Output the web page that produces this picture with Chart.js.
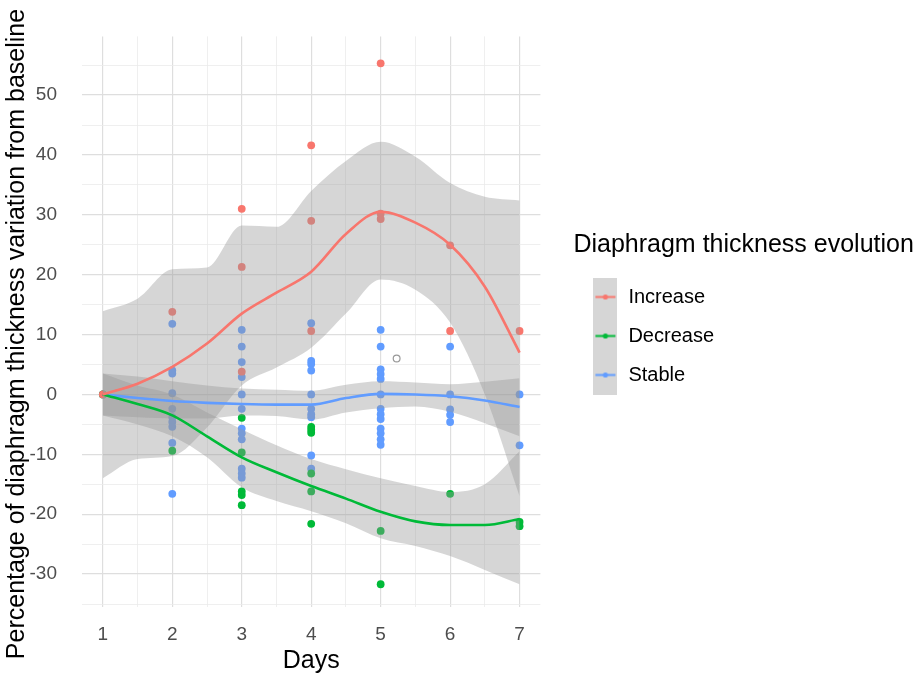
<!DOCTYPE html>
<html>
<head>
<meta charset="utf-8">
<script src="https://cdn.jsdelivr.net/npm/chart.js@4.4.1/dist/chart.umd.min.js"></script>
<style>
html, body { margin: 0; padding: 0; background: #fff; }
#wrap { width: 920px; height: 677px; position: relative; }
</style>
</head>
<body>
<div id="wrap"><canvas id="plot"></canvas></div>
<script>
// groups and colours (ggplot default hues)
const groups = ["Increase", "Decrease", "Stable"];
const colors = ["#F8766D", "#00BA38", "#619CFF"];
const ribbonFill = "rgba(153,153,153,0.4)";

// axis ticks
const dayTicks = [1, 2, 3, 4, 5, 6, 7];
const dayMinor = [1.5, 2.5, 3.5, 4.5, 5.5, 6.5];
const yTicks = [-30, -20, -10, 0, 10, 20, 30, 40, 50];
const yMinor = [-35, -25, -15, -5, 5, 15, 25, 35, 45, 55];

// observations [day, % change]
const incPts = [[1,0],[2,13.8],[3,31],[3,21.3],[3,3.8],[4,41.6],[4,29],[4,10.6],[5,55.3],[5,30.2],[5,29.3],[6,24.9],[6,10.6],[7,10.6]];
const decPts = [[1,0],[2,-9.4],[3,-3.9],[3,-9.7],[3,-16.2],[3,-16.8],[3,-18.5],[4,-5.4],[4,-5.9],[4,-6.4],[4,-13.2],[4,-16.2],[4,-21.6],[5,-22.8],[5,-31.7],[6,-16.6],[7,-21.3],[7,-22]];
const staPts = [[1,0],[2,11.8],[2,4],[2,3.5],[2,0.2],[2,-2.4],[2,-3.8],[2,-4.6],[2,-5.4],[2,-8.1],[2,-16.6],
  [3,10.8],[3,8],[3,5.4],[3,2.9],[3,0],[3,-2.4],[3,-5.7],[3,-6.5],[3,-7.5],[3,-12.4],[3,-13.2],[3,-13.9],
  [4,11.9],[4,5.6],[4,5.1],[4,4],[4,0],[4,-2.4],[4,-3.3],[4,-3.8],[4,-10.2],[4,-12.4],
  [5,10.8],[5,8],[5,4.2],[5,3.4],[5,2.6],[5,0],[5,-2.4],[5,-3.3],[5,-4.1],[5,-5.7],[5,-6.5],[5,-7.5],[5,-8.4],
  [6,8],[6,0],[6,-2.5],[6,-3.4],[6,-4.6],[7,0],[7,-8.5]];
const strayPt = [[5.23, 6]];

// loess fits and confidence bands, read every half day
const days   = [1, 1.5, 2, 2.5, 3, 3.5, 4, 4.5, 5, 5.5, 6, 6.5, 7];
const incFit = [0, 1.8, 4.6, 8.5, 13.5, 17, 20.5, 26.8, 30.5, 28.7, 25, 18, 7];
const incHi  = [13.9, 16, 20.9, 21.2, 28.2, 28, 34, 39, 42.2, 39.7, 35.3, 33, 32.4];
const incLo  = [-14, -10.8, -10.3, -5.5, 1.5, 4.5, 7.8, 13.5, 19.2, 17.5, 12, 0, -17];
const decFit = [0, -1.6, -3.5, -7, -10.5, -13, -15.3, -17.4, -19.6, -21.2, -21.8, -21.8, -20.8];
const decHi  = [3.5, 1.5, 0, -3, -5.8, -8.5, -10.8, -12.5, -14, -15.3, -16.3, -15, -9.5];
const decLo  = [-3.5, -5, -7, -10.5, -15.5, -17.8, -19.5, -21.5, -24, -25.3, -27, -29.3, -31.7];
const staFit = [0, -0.6, -1.1, -1.4, -1.6, -1.7, -1.7, -0.6, 0.1, 0, -0.3, -1, -2.1];
const staHi  = [3.5, 3, 2.2, 1.5, 1, 0.8, 0.6, 1.6, 2.2, 2, 1.7, 2.1, 2.7];
const staLo  = [-3.5, -3.8, -4, -4, -3.5, -3.6, -4.2, -3, -2.3, -2, -2.9, -4.8, -7];

const yLabel = "Percentage of diaphragm thickness variation from baseline";
const xLabel = "Days";
const legendTitle = "Diaphragm thickness evolution";

const FONT = "'Liberation Sans', Arial, sans-serif";
Chart.defaults.font.family = FONT;
Chart.defaults.color = "#000";

const pts = arr => arr.map(([x, y]) => ({x, y}));
const curve = vals => days.map((d, i) => ({x: d, y: vals[i]}));

function pointSet(arr, color) {
  return {data: pts(arr), backgroundColor: color, borderWidth: 0, pointRadius: 3.9, order: 3};
}
function band(hi, lo) {
  const base = {showLine: true, borderWidth: 0, pointRadius: 0, cubicInterpolationMode: "monotone", order: 2};
  return [
    Object.assign({data: curve(hi), fill: "+1", backgroundColor: ribbonFill}, base),
    Object.assign({data: curve(lo), fill: false}, base)
  ];
}
function fitLine(vals, color) {
  return {data: curve(vals), showLine: true, borderColor: color, borderWidth: 2.6, pointRadius: 0,
          fill: false, cubicInterpolationMode: "monotone", order: 1};
}

function keyIcon(color) {
  const c = document.createElement("canvas");
  c.width = 24; c.height = 39;
  const g = c.getContext("2d");
  g.fillStyle = ribbonFill; g.fillRect(0, 0, 24, 39);
  g.strokeStyle = color; g.lineWidth = 2;
  g.beginPath(); g.moveTo(2, 19.5); g.lineTo(22, 19.5); g.stroke();
  g.fillStyle = color; g.beginPath(); g.arc(12, 19.5, 2.6, 0, Math.PI * 2); g.fill();
  return c;
}

// long titles drawn by hand: the axis title would be squeezed to the panel
// height and the legend clips anything wider than its items
const extraTitles = {
  id: "extraTitles",
  afterDraw(chart) {
    const c = chart.ctx;
    c.save();
    c.font = "25px " + FONT;
    c.fillStyle = "#000";
    c.textBaseline = "middle";
    c.textAlign = "left";
    c.fillText(legendTitle, chart.legend.left, 245);
    c.translate(17, 334);
    c.rotate(-Math.PI / 2);
    c.textAlign = "center";
    c.fillText(yLabel, 0, 0);
    c.restore();
  }
};

const gridColor = major => ctx => major(ctx.tick.value) ? "#dedede" : "#ebebeb";
const gridWidth = major => ctx => major(ctx.tick.value) ? 1.2 : 0.8;
const isDay = v => dayTicks.includes(v);
const isY = v => yTicks.includes(v);

new Chart(document.getElementById("plot"), {
  type: "scatter",
  data: {
    datasets: [
      pointSet(incPts, colors[0]),
      pointSet(decPts, colors[1]),
      pointSet(staPts, colors[2]),
      {data: pts(strayPt), backgroundColor: "rgba(0,0,0,0)", borderColor: "#999", borderWidth: 1.2, pointRadius: 3.4, order: 3},
      ...band(incHi, incLo),
      ...band(decHi, decLo),
      ...band(staHi, staLo),
      fitLine(incFit, colors[0]),
      fitLine(decFit, colors[1]),
      fitLine(staFit, colors[2])
    ]
  },
  options: {
    responsive: true,
    maintainAspectRatio: false,
    animation: false,
    events: [],
    layout: {padding: {top: 15, right: 196, bottom: 0, left: 0}},
    scales: {
      x: {
        type: "linear", position: "bottom", min: 0.7, max: 7.3,
        afterBuildTicks: s => { s.ticks = dayTicks.concat(dayMinor).sort((a, b) => a - b).map(v => ({value: v})); },
        afterFit: s => { s.height = 70; },
        grid: {drawTicks: false, color: gridColor(isDay), lineWidth: gridWidth(isDay)},
        border: {display: false},
        ticks: {padding: 16, autoSkip: false, maxRotation: 0, color: "#4d4d4d", font: {size: 19},
                callback: v => isDay(v) ? String(v) : ""},
        title: {display: true, text: xLabel, font: {size: 25}, color: "#000", padding: {top: 0, bottom: 1}}
      },
      y: {
        type: "linear", position: "left", min: -35.5, max: 59.8,
        afterBuildTicks: s => { s.ticks = yTicks.concat(yMinor).sort((a, b) => a - b).map(v => ({value: v})); },
        afterFit: s => { s.width = 82; },
        grid: {drawTicks: false, color: gridColor(isY), lineWidth: gridWidth(isY)},
        border: {display: false},
        ticks: {padding: 25, autoSkip: false, color: "#4d4d4d", font: {size: 19},
                callback: v => isY(v) ? String(v) : ""}
      },
      // hidden spacer between the panel and the legend
      gap: {
        type: "linear", position: "right", display: false,
        afterFit: s => { s.width = 33; }
      }
    },
    plugins: {
      tooltip: {enabled: false},
      legend: {
        position: "right",
        align: "start",
        // empty title only reserves the room taken by the hand-drawn one
        title: {display: true, text: "", font: {size: 25}, padding: {top: 223, bottom: 0}},
        labels: {
          usePointStyle: true, pointStyleWidth: 26, padding: 19, color: "#000", font: {size: 20},
          generateLabels: () => groups.map((g, i) => ({
            text: g, pointStyle: keyIcon(colors[i]), fillStyle: colors[i], strokeStyle: colors[i],
            lineWidth: 0, hidden: false, datasetIndex: i, fontColor: "#000"
          }))
        }
      }
    }
  },
  plugins: [extraTitles]
});
</script>
</body>
</html>
